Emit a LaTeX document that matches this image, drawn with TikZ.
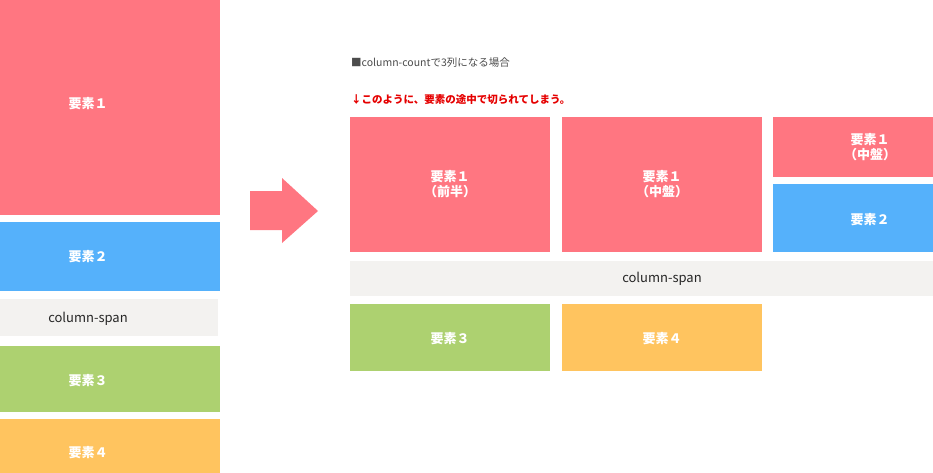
\documentclass[tikz,border=0pt]{standalone}
\usepackage{fontspec}
\setmainfont{Noto Sans CJK JP}
\begin{document}
\begin{tikzpicture}[x=1pt,y=-1pt,
  lbl/.style={font=\bfseries\fontsize{13}{15}\selectfont,text=white,align=center},
  spn/.style={font=\fontsize{13}{15}\selectfont,text=black!85}]
\definecolor{cr}{HTML}{FF7681}\definecolor{cb}{HTML}{55B1FB}
\definecolor{cg}{HTML}{F3F2F0}\definecolor{cgr}{HTML}{ADD170}
\definecolor{co}{HTML}{FFC45F}
\useasboundingbox (0,0) rectangle (933,473);
% left
\fill[cr] (0,0) rectangle (220,215); \node[lbl] (l1) at (88,104) {要素１};
\fill[cb] (0,222) rectangle (220,291); \node[lbl] (l2) at (88,257) {要素２};
\fill[cg] (0,299) rectangle (218,336); \node[spn] (l3) at (88,319) {column-span};
\fill[cgr] (0,346) rectangle (220,412); \node[lbl] (l4) at (88,381) {要素３};
\fill[co] (0,419) rectangle (220,473); \node[lbl] (l5) at (88,453) {要素４};
% arrow
\fill[cr] (250,191) -- (282,191) -- (282,178) -- (318,211) -- (282,243) -- (282,230) -- (250,230) -- cycle;
% right
\node[anchor=west,font=\fontsize{10.5}{12}\selectfont,text=black!70,inner sep=0] (t1) at (351,63) {■column-countで3列になる場合};
\node[anchor=west,font=\bfseries\fontsize{10.5}{12}\selectfont,text=red!90!black,inner sep=0] (t2) at (351,100) {↓このように、要素の途中で切られてしまう。};
\fill[cr] (350,117) rectangle (550,252); \node[lbl] (r1) at (450,184) {要素１\\（前半）};
\fill[cr] (562,117) rectangle (762,252); \node[lbl] (r2) at (662,184) {要素１\\（中盤）};
\fill[cr] (773,117) rectangle (933,177); \node[lbl] (r3) at (870,147) {要素１\\（中盤）};
\fill[cb] (773,184) rectangle (933,252); \node[lbl] (r4) at (870,220) {要素２};
\fill[cg] (350,261) rectangle (933,296); \node[spn] (r5) at (662,279) {column-span};
\fill[cgr] (350,304) rectangle (550,371); \node[lbl] (r6) at (450,339) {要素３};
\fill[co] (562,304) rectangle (762,371); \node[lbl] (r7) at (662,339) {要素４};
\end{tikzpicture}
\end{document}
